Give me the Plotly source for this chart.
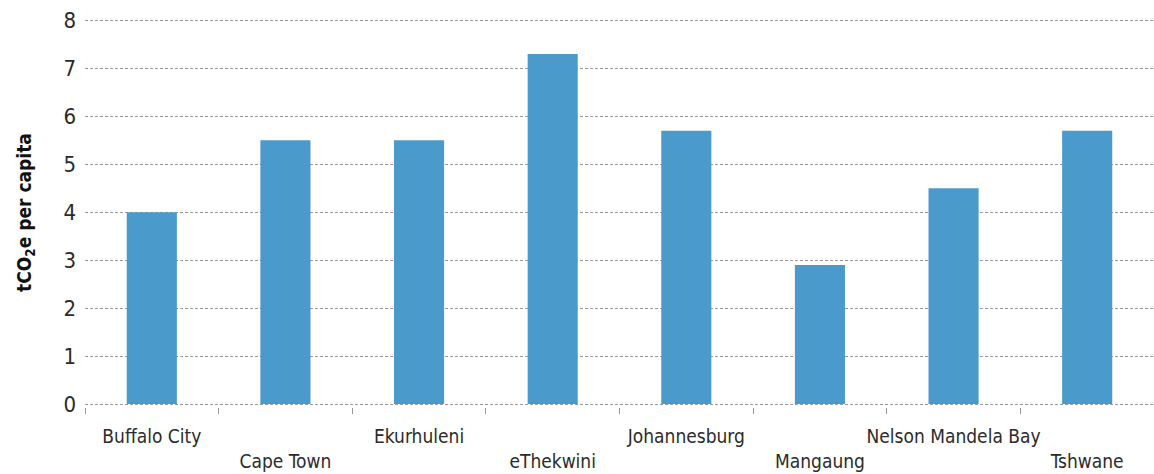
import plotly.graph_objects as go

cities = ["Buffalo City", "Cape Town", "Ekurhuleni", "eThekwini",
          "Johannesburg", "Mangaung", "Nelson Mandela Bay", "Tshwane"]
emissions = [4.0, 5.5, 5.5, 7.3, 5.7, 2.9, 4.5, 5.7]
y_ticks = [0, 1, 2, 3, 4, 5, 6, 7, 8]

# alternate labels on two rows
tick_text = [c if i % 2 == 0 else "<br>" + c for i, c in enumerate(cities)]

FONT = "Liberation Sans Narrow, DejaVu Sans Condensed, Arial Narrow, sans-serif"

fig = go.Figure(go.Bar(
    x=cities, y=emissions,
    marker=dict(color="#4a9bcc", line=dict(width=0)),
    width=0.375,
))

fig.update_layout(
    width=1154, height=474,
    margin=dict(l=85, r=0, t=18, b=67),
    plot_bgcolor="white", paper_bgcolor="white",
    showlegend=False,
    font=dict(family=FONT, color="#2b2b2b"),
)
fig.update_xaxes(
    tickmode="array", tickvals=cities, ticktext=tick_text,
    tickangle=0, automargin=False,
    tickfont=dict(size=19, family=FONT, color="#2b2b2b"),
    tickson="boundaries", ticks="outside", ticklen=6, tickcolor="#999999",
    ticklabelstandoff=16,
    showline=False, showgrid=False,
    range=[-0.5, 7.5],
)
fig.update_yaxes(
    range=[-0.06, 8.05], tickvals=y_ticks, automargin=False,
    tickfont=dict(size=22, family=FONT, color="#2b2b2b"),
    ticklabelstandoff=8,
    showgrid=True, gridcolor="#9a9a9a", gridwidth=1, griddash="3px,2px",
    zeroline=False, showline=False, ticks="",
    title=dict(text="<b>tCO<sub>2</sub>e per capita</b>",
               font=dict(size=19, family=FONT, color="#111111"), standoff=26),
)

fig.write_html("out.html")
